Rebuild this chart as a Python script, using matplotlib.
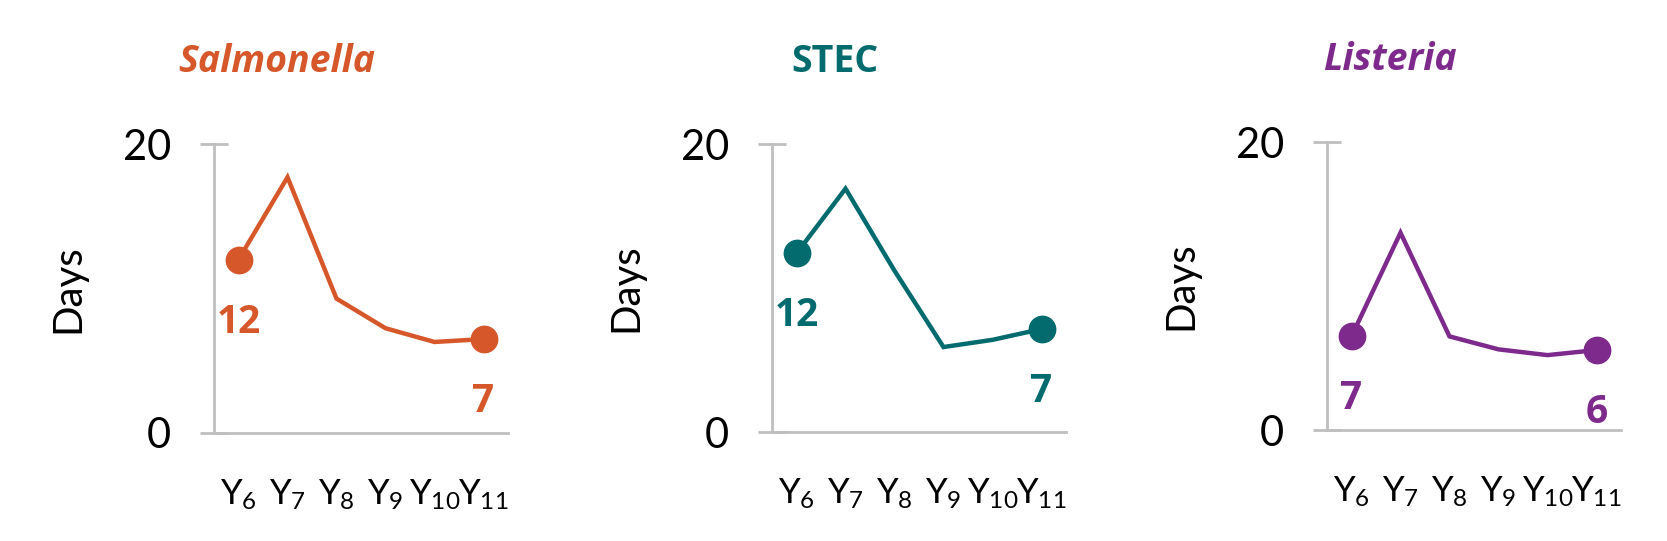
import numpy as np
import matplotlib
matplotlib.use("Agg")
import matplotlib.pyplot as plt

# data
years = ["6", "7", "8", "9", "10", "11"]
salmonella = [12, 17.7, 9.3, 7.25, 6.3, 6.5]
stec = [12.4, 16.9, 11.2, 5.9, 6.4, 7.15]
listeria = [6.5, 13.7, 6.5, 5.6, 5.2, 5.55]

titles = ["Salmonella", "STEC", "Listeria"]
italic = [True, False, True]
first_labels = ["12", "12", "7"]
last_labels = ["7", "7", "6"]
colors = ["#D6582A", "#036B6E", "#7D2A8C"]

W, H = 1667, 541
fig = plt.figure(figsize=(W / 100, H / 100), dpi=100)

# axes boxes in pixels: (left spine x, y of 0, y of 20)
boxes = [(214, 433, 144), (772, 432, 144), (1327, 430, 142)]
axw = 294
grey = "#BFBFBF"

tick_labels = [r"$\mathregular{Y_{%s}}$" % y for y in years]
x = np.arange(len(years))

for i, series in enumerate([salmonella, stec, listeria]):
    left, y0, y20 = boxes[i]
    ax = fig.add_axes([left / W, (H - y0) / H, axw / W, (y0 - y20) / H])
    c = colors[i]

    ax.plot(x, series, color=c, lw=3.2, solid_joinstyle="miter")
    ax.plot([x[0], x[-1]], [series[0], series[-1]], "o", color=c, ms=19)

    ax.annotate(first_labels[i], (x[0], series[0]), xytext=(0, -45),
                textcoords="offset points", ha="center", va="center",
                fontsize=28, fontweight="bold", color=c, family="Open Sans")
    ax.annotate(last_labels[i], (x[-1], series[-1]), xytext=(0, -45),
                textcoords="offset points", ha="center", va="center",
                fontsize=28, fontweight="bold", color=c, family="Open Sans")

    ax.set_xlim(-0.5, 5.5)
    ax.set_ylim(0, 20)
    ax.set_yticks([0, 20])
    ax.set_xticks(x)
    ax.set_xticklabels(tick_labels)

    for s in ["top", "right"]:
        ax.spines[s].set_visible(False)
    for s in ["left", "bottom"]:
        ax.spines[s].set_color(grey)
        ax.spines[s].set_linewidth(2)

    ax.tick_params(axis="y", direction="inout", length=20, width=2, color=grey,
                   pad=21, labelsize=30)
    ax.tick_params(axis="x", length=0, pad=32, labelsize=25)
    for lab in ax.get_xticklabels() + ax.get_yticklabels():
        lab.set_family("Lato")

    ax.set_ylabel("Days", fontsize=29, family="Lato")
    ax.yaxis.set_label_coords(-0.435, 0.5)

    ax.text(0.215, 1.284, titles[i], transform=ax.transAxes, ha="center",
            va="center", fontsize=27, fontweight="bold", color=c,
            family="Open Sans", style="italic" if italic[i] else "normal")

fig.savefig("out.png", dpi=100)
